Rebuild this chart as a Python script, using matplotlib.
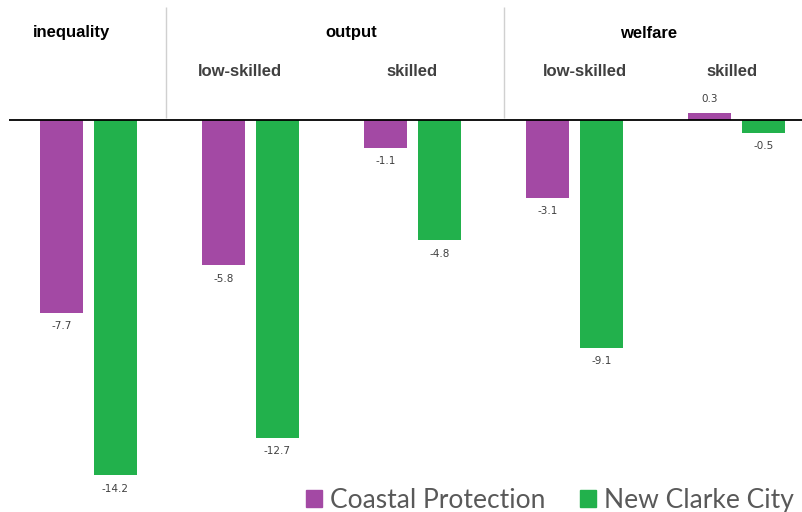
import matplotlib.pyplot as plt
from matplotlib.patches import Patch

# data
groups = ['inequality', 'output\nlow-skilled', 'output\nskilled',
          'welfare\nlow-skilled', 'welfare\nskilled']
coastal = [-7.7, -5.8, -1.1, -3.1, 0.3]
clarke = [-14.2, -12.7, -4.8, -9.1, -0.5]
series_names = ['Coastal Protection', 'New Clarke City']

purple = '#A349A4'
green = '#22B14C'

fig = plt.figure(figsize=(8.02, 5.12), dpi=100)
ax = fig.add_axes([0, 0, 1, 1])
ax.set_xlim(-0.546, 4.404)
ax.set_ylim(-15.68, 4.8)
ax.axis('off')

w = 0.265
off = 0.1667
xs = range(len(groups))
for i in xs:
  ax.bar(i - off, coastal[i], width=w, color=purple)
  ax.bar(i + off, clarke[i], width=w, color=green)
  for x, v in ((i - off, coastal[i]), (i + off, clarke[i])):
    if v < 0:
      ax.text(x, v - 0.35, '%.1f' % v, ha='center', va='top', fontsize=7.5, color='#404040')
    else:
      ax.text(x, v + 0.35, '%.1f' % v, ha='center', va='bottom', fontsize=7.5, color='#404040')

# zero line
ax.hlines(0, -0.49, 4.404, color='black', lw=1.3)

# header separators
ax.vlines([0.478, 2.565], 0.1, 4.52, color='#d0d0d0', lw=1)

# headers
hdr = dict(ha='center', va='center', fontsize=12, fontweight='bold',
           family='Liberation Sans')
ax.text(-0.103, 3.48, 'inequality', color='black', **hdr)
ax.text(1.62, 3.48, 'output', color='black', **hdr)
ax.text(3.455, 3.48, 'welfare', color='black', **hdr)
ax.text(0.935, 1.92, 'low-skilled', color='#404040', **hdr)
ax.text(2.0, 1.92, 'skilled', color='#404040', **hdr)
ax.text(3.065, 1.92, 'low-skilled', color='#404040', **hdr)
ax.text(3.97, 1.92, 'skilled', color='#404040', **hdr)

handles = [Patch(color=purple, label=series_names[0]),
           Patch(color=green, label=series_names[1])]
leg = ax.legend(handles=handles, ncol=2, frameon=False, loc='lower right',
                bbox_to_anchor=(1.019, -0.048), handlelength=0.6,
                handleheight=0.6, handletextpad=0.3, columnspacing=1.32,
                prop={'family': 'Lato', 'size': 19})
for t in leg.get_texts():
  t.set_color('#595959')

fig.savefig('out.png', dpi=100)
